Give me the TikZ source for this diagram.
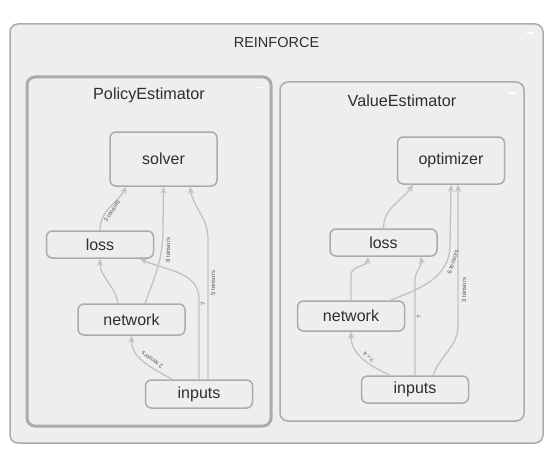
\documentclass[tikz,border=0pt]{standalone}
\usepackage{fontspec}
\setmainfont{Liberation Sans}
\usetikzlibrary{arrows.meta}
\definecolor{panel}{HTML}{EEEEEE}
\definecolor{rim}{HTML}{ABABAB}
\definecolor{wire}{HTML}{C2C2C2}
\definecolor{ink}{HTML}{2E2E2E}
\definecolor{tag}{HTML}{555555}
\begin{document}
\begin{tikzpicture}[x=1pt,y=1pt,
    group/.style={draw=rim,fill=panel,line width=1.5pt,rounded corners=8pt,inner sep=0pt},
    title/.style={text=ink,font=\fontsize{16.2}{19}\selectfont},
    opnode/.style={draw=rim,fill=panel,line width=1.5pt,rounded corners=6pt,
        minimum width=107pt,text=ink,font=\fontsize{16}{19}\selectfont,inner sep=0pt},
    flow/.style={draw=wire,line width=1.3pt,-{Stealth[length=7pt,width=6pt,inset=2pt]}},
    tlabel/.style={text=tag,font=\fontsize{6}{7}\selectfont,inner sep=0pt},
    fold/.style={draw=white,line width=1.6pt}]
            \useasboundingbox[fill=white] (0,0) rectangle (553,456);
            \node[group,minimum width=533pt,minimum height=419pt] (reinforce) at (276.5,222.5) {};
            \node[title,font=\fontsize{14.5}{17}\selectfont] (reinforcetitle) at ([yshift=-19pt]reinforce.north) {REINFORCE};
            \draw[fold] ([xshift=-17pt,yshift=-10pt]reinforce.north east) -- ([xshift=-10pt,yshift=-10pt]reinforce.north east);

            \node[group,line width=3pt,minimum width=244pt,minimum height=349pt] (policy) at (149,204.5) {};
            \node[title] (policytitle) at ([yshift=-20pt]policy.north) {PolicyEstimator};
            \draw[fold] ([xshift=-16pt,yshift=-12pt]policy.north east) -- ([xshift=-9pt,yshift=-12pt]policy.north east);

            \node[group,minimum width=244pt,minimum height=339pt] (value) at (402,204.5) {};
            \node[title] (valuetitle) at ([yshift=-19pt]value.north) {ValueEstimator};
            \draw[fold] ([xshift=-16pt,yshift=-12pt]value.north east) -- ([xshift=-9pt,yshift=-12pt]value.north east);

            \node[opnode,minimum height=54pt] (psolver) at (163.5,297) {solver};
            \node[opnode,minimum height=27pt] (ploss) at (100,211.5) {loss};
            \node[opnode,minimum height=31pt] (pnetwork) at (131.5,136.5) {network};
            \node[opnode,minimum height=28pt] (pinputs) at (199,62) {inputs};

            \node[opnode,minimum height=47pt] (voptimizer) at (451,295.5) {optimizer};
            \node[opnode,minimum height=27pt] (vloss) at (383.5,213.5) {loss};
            \node[opnode,minimum height=30pt] (vnetwork) at (351,140) {network};
            \node[opnode,minimum height=27pt] (vinputs) at (415,66.5) {inputs};

            \draw[flow] (ploss.north) to[out=90,in=-120] ([xshift=-37pt]psolver.south);
            \draw[flow] ([xshift=-13.5pt]pnetwork.north) to[out=100,in=-90] (ploss.south);
            \draw[flow] ([xshift=13.5pt]pnetwork.north) to[out=70,in=-90] ++(18,74) -- (psolver.south);
            \draw[flow] ([xshift=-27pt]pinputs.north) to[out=150,in=-90] (pnetwork.south);
            \draw[flow] (pinputs.north) -- ++(0,80) to[out=90,in=-25] ([xshift=40pt]ploss.south);
            \draw[flow] ([xshift=9pt]pinputs.north) -- ++(0,140) to[out=90,in=-80] ([xshift=26.5pt]psolver.south);

            \draw[flow] (vloss.north) to[out=90,in=-125] ([xshift=-38pt]voptimizer.south);
            \draw[flow] (vnetwork.north) -- ++(0,25) to[out=90,in=-95] ([xshift=-15.5pt]vloss.south);
            \draw[flow] ([xshift=39pt]vnetwork.north) to[out=20,in=-90] ++(60,55) -- (voptimizer.south);
            \draw[flow] ([xshift=18pt]vinputs.north) to[out=70,in=-90] ++(25,50) -- ([xshift=7pt]voptimizer.south);
            \draw[flow] (vinputs.north) -- ++(0,95) to[out=90,in=-80] ([xshift=-17pt]vloss.south east);
            \draw[flow] ([xshift=-25pt]vinputs.north) to[out=155,in=-90] (vnetwork.south);

            \node[tlabel,rotate=58] (p3) at (112,245) {3 tensors};
            \node[tlabel,rotate=90] (p8) at (168,206) {8 tensors};
            \node[tlabel,rotate=145] (p2) at (152,96) {2 tensors};
            \node[tlabel,rotate=90] (pq) at (203,152) {?};
            \node[tlabel,rotate=90] (p5) at (213,173) {5 tensors};

            \node[tlabel,rotate=72] (v6) at (453,194) {6 tensors};
            \node[tlabel,rotate=90] (v3) at (464,166) {3 tensors};
            \node[tlabel,rotate=90] (vq) at (419,139) {?};
            \node[tlabel,rotate=140] (v4) at (369,99) {?$\times$4};
        \end{tikzpicture}
\end{document}
